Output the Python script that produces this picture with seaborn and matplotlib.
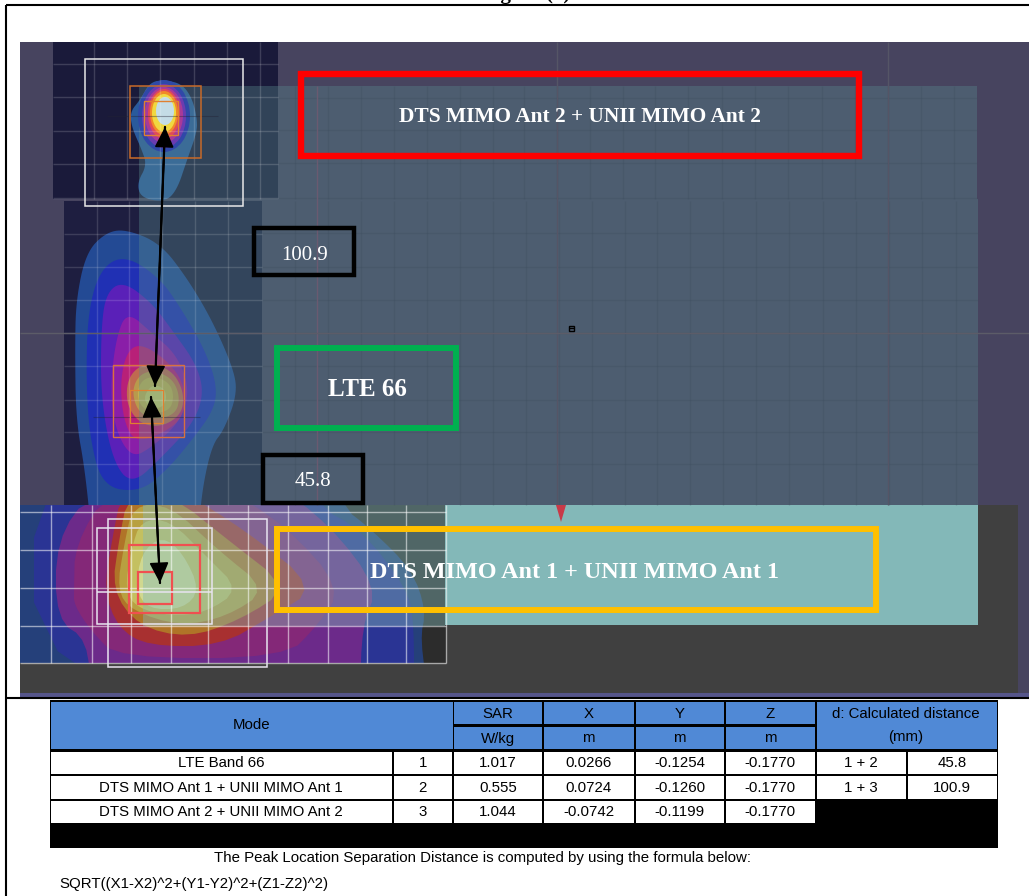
import numpy as np
import pandas as pd
import matplotlib
matplotlib.use("Agg")
import matplotlib.pyplot as plt
from matplotlib.patches import Rectangle, Polygon, Ellipse
import seaborn as sns

SANS = "Liberation Sans"
SERIF = "Liberation Serif"

# ---- table data
table_modes = ["LTE Band 66", "DTS MIMO Ant 1 + UNII MIMO Ant 1", "DTS MIMO Ant 2 + UNII MIMO Ant 2"]
table_ids = ["1", "2", "3"]
table_sar = ["1.017", "0.555", "1.044"]
table_x = ["0.0266", "0.0724", "-0.0742"]
table_y = ["-0.1254", "-0.1260", "-0.1199"]
table_z = ["-0.1770", "-0.1770", "-0.1770"]
pair_labels = ["1 + 2", "1 + 3"]
pair_dist = ["45.8", "100.9"]
col_edges = [51, 392.5, 453, 543, 634.5, 725, 815.5, 907, 997]
row_edges = [(752, 774), (776.5, 799), (801, 823)]

# ---- SAR peak positions in the picture
links = pd.DataFrame({
    "px": [155, 165, 151, 160],
    "py": [386, 127, 397, 583],
    "pair": ["1+3", "1+3", "1+2", "1+2"],
})

# ---- SAR contour layers (outer to inner)
top_outer = [(140,100),(130,112),(132,128),(141,148),(147,165),(137,183),(141,198),(165,202),(177,190),(187,160),(197,132),(197,118),(192,98),(182,84),(165,80),(150,82)]
top_rings = [
    (164,116,26,36,"#3048a8"),(164,116,22,32,"#6a3cb0"),(164,115,19,28,"#a83a98"),
    (164,114,16,25,"#e04a58"),(164,113,14,22,"#f08a28"),(164,113,12,19,"#f0d840"),
    (165,111,9,14,"#c4dce6"),
]
mid_layers = [
    ("#234a94",[(125,229),(160,243),(187,278),(212,320),(234,370),(237,395),(224,430),(212,445),(202,490),(198,540),(92,540),(85,470),(76,420),(75,350),(76,300),(86,253),(105,233)]),
    ("#2030b4",[(125,255),(160,278),(182,310),(205,350),(217,385),(214,410),(192,440),(167,470),(140,492),(103,487),(90,440),(86,380),(88,310),(101,268)]),
    ("#5a20b8",[(123,281),(152,303),(172,330),(197,365),(204,395),(192,425),(162,457),(132,485),(113,462),(101,400),(101,330),(106,293)]),
    ("#8a1ea8",[(127,311),(152,333),(177,355),(190,390),(180,422),(152,447),(132,458),(116,432),(110,390),(116,338)]),
    ("#b82078",[(140,343),(167,360),(185,385),(184,417),(162,434),(135,442),(124,422),(120,385),(126,353)]),
    ("#bf6a50",[(146,362),(172,370),(184,392),(182,414),(162,427),(140,424),(126,404),(128,376)]),
    ("#b89a4c",[(152,370),(172,378),(180,396),(176,414),(155,420),(138,412),(132,392),(138,376)]),
    ("#c0b050",[(154,376),(170,383),(174,397),(170,410),(154,414),(140,406),(137,392),(142,380)]),
    ("#c8c868",[(152,384),(164,388),(167,398),(162,408),(150,408),(143,398)]),
]
bottom_layers = [
    ("#25407a",[(-60,440),(335,440),(340,505),(372,530),(412,570),(426,610),(420,640),(430,700),(-60,700)]),
    ("#2a3494",[(34,440),(310,440),(315,505),(362,530),(408,590),(414,625),(414,700),(34,700)]),
    ("#6c2a8a",[(56,540),(92,490),(270,480),(330,525),(378,588),(362,625),(360,700),(90,700),(88,640),(56,620)]),
    ("#842878",[(74,590),(75,545),(108,490),(220,485),(285,525),(342,588),(318,625),(285,658),(118,658),(92,632),(74,605)]),
    ("#a83030",[(104,590),(112,540),(122,490),(180,490),(245,530),(318,588),(270,617),(220,646),(148,646),(118,628)]),
    ("#b07428",[(112,590),(119,540),(128,495),(172,495),(228,540),(290,588),(240,620),(188,638),(138,626)]),
    ("#b8a040",[(117,590),(124,545),(133,505),(170,505),(218,550),(268,590),(226,617),(180,626),(132,611)]),
    ("#c4c060",[(125,590),(131,550),(141,520),(170,520),(206,556),(240,590),(205,613),(170,616),(137,608)]),
    ("#d0d890",[(136,590),(141,553),(162,536),(183,553),(200,590),(183,609),(148,609)]),
]

# ---- grid line positions
top_grid_x = [94,127,160,194,227,260]
top_grid_y = [64,97,131,164,198]
mid_grid_x = [97,129,162,195,228]
mid_grid_y = [234,267,300,333,366,400,432,464]
teal_grid_x_top = [295,328,361,394,427,460,493,524,557,590,623,655,688,722,755,788,822,855,888,921,954]
teal_grid_y_top = [98,130,163,198]
teal_grid_x_mid = [295,328,361,394,427,460,493,526,559,592,625,657,690,723,756,789,823,856,889,922,956]
teal_grid_y_mid = [233,267,300,333,366,400,432,464]
bot_grid_x = [51,92,131,171,208,248,288,328,367,406,446]
bot_grid_y = [512,550,588,626,663]

sns.set_theme(style="white", rc={"axes.linewidth": 0})
fig, ax = plt.subplots(figsize=(10.29, 8.96), dpi=100)
fig.subplots_adjust(0, 0, 1, 1)
ax.set_xlim(0, 1029)
ax.set_ylim(896, 0)
ax.axis("off")

def rect(x0, y0, x1, y1, fc="none", ec="none", lw=0, alpha=None, z=1):
    ax.add_patch(Rectangle((x0, y0), x1 - x0, y1 - y0, fc=fc, ec=ec, lw=lw, alpha=alpha, zorder=z))

def smooth(pts, n=3):
    p = np.asarray(pts, float)
    for _ in range(n):
        q = np.roll(p, -1, axis=0)
        p = np.column_stack([0.75 * p + 0.25 * q, 0.25 * p + 0.75 * q]).reshape(-1, 2)
    return p

# picture background
rect(20, 42, 1029, 697, fc="#47445f", z=1)
rect(53, 42, 278, 199, fc="#1a1a3a", z=2)
rect(64, 201, 262, 505, fc="#1e1e40", z=2)

# mid blob
for col, pts in mid_layers:
    poly = ax.add_patch(Polygon(smooth(pts), fc=col, ec="none", zorder=3))
    poly.set_clip_path(Rectangle((20, 201), 500, 304, transform=ax.transData))
# top blob
ax.add_patch(Polygon(smooth(top_outer), fc="#2a5a9c", ec="none", zorder=3))

# translucent body overlay
ov = "#5a8c90"
rect(139, 86, 977, 199, fc=ov, alpha=0.36, z=4)
rect(139, 199, 978, 505, fc=ov, alpha=0.36, z=4)
for cx, cy, rx, ry, col in top_rings:
    ax.add_patch(Ellipse((cx, cy), 2 * rx, 2 * ry, fc=col, ec="none", zorder=4.5))

# faint grids
ax.vlines(top_grid_x, 42, 199, color="white", alpha=0.16, lw=1, zorder=5)
ax.hlines(top_grid_y, 53, 278, color="white", alpha=0.16, lw=1, zorder=5)
ax.vlines(mid_grid_x, 201, 505, color="white", alpha=0.14, lw=1, zorder=5)
ax.hlines(mid_grid_y, 64, 262, color="white", alpha=0.14, lw=1, zorder=5)
ax.vlines(teal_grid_x_top, 86, 199, color="#3c4c5c", alpha=0.28, lw=1, zorder=5)
ax.hlines(teal_grid_y_top, 278, 977, color="#3c4c5c", alpha=0.28, lw=1, zorder=5)
ax.vlines(teal_grid_x_mid, 201, 505, color="#3c4c5c", alpha=0.28, lw=1, zorder=5)
ax.hlines(teal_grid_y_mid, 262, 978, color="#3c4c5c", alpha=0.28, lw=1, zorder=5)
ax.vlines([557, 888], 42, 505, color="#555566", lw=1, zorder=5)
ax.vlines([317], 86, 505, color="#6a5a70", lw=1, zorder=5)
ax.hlines([333], 20, 1029, color="#5c5c68", lw=1, zorder=5)
ax.hlines([116], 107, 218, color="#222233", alpha=0.4, lw=0.8, zorder=5)
ax.hlines([417], 93, 200, color="#222233", alpha=0.4, lw=0.8, zorder=5)
ax.add_patch(Rectangle((569, 326), 5, 5, fc="none", ec="black", lw=1, zorder=5))
ax.hlines([328], 569, 574, color="black", lw=1, zorder=5)

# bottom region
rect(20, 505, 1018, 694, fc="#404040", z=2)
rect(1018, 505, 1029, 694, fc="#47445f", z=2)
rect(20, 505, 446, 663, fc="#2c2c2c", z=3)
for col, pts in bottom_layers:
    poly = ax.add_patch(Polygon(smooth(pts, 2), fc=col, ec="none", zorder=3))
    poly.set_clip_path(Rectangle((20, 505), 426, 158, transform=ax.transData))
rect(143, 505, 445, 626, fc="#83b8b8", alpha=0.42, z=4)
rect(445, 505, 978, 625, fc="#83b8b8", z=4)
rect(20, 693, 1029, 697, fc="#55558a", z=2)
ax.add_patch(Polygon([(556, 505), (566, 505), (561, 522)], fc="#c83a48", ec="none", zorder=5))

# white grid on the bottom region
ax.vlines(bot_grid_x, 505, 663, color="white", alpha=0.55, lw=1, zorder=6)
ax.hlines(bot_grid_y, 20, 446, color="white", alpha=0.55, lw=1, zorder=6)

# measurement squares
for x0, y0, x1, y1, c, lw in [
    (85, 59, 243, 206, "#e8e8e8", 1.1),
    (129.5, 86, 201, 158, "#c86a28", 1.1),
    (144, 101, 178, 135, "#e08030", 1.0),
    (113, 365, 184, 437, "#d87040", 1.0),
    (130, 390, 163, 423, "#e08030", 0.9),
    (97, 528, 212, 624, "#e8e4f0", 1.1),
    (108, 519.5, 267, 667, "#e8e4f0", 1.1),
    (129, 545, 200, 613, "#f05050", 1.6),
    (138, 572, 172, 604, "#f05050", 1.6),
]:
    rect(x0, y0, x1, y1, ec=c, lw=lw, z=7)
ax.hlines([592], 97, 212, color="#e8e4f0", lw=1.1, zorder=7)

# annotation frames
rect(301, 74, 859, 156, ec="#ff0000", lw=4.6, z=8)
rect(277, 348, 456, 428, ec="#00b050", lw=4.3, z=8)
rect(254, 228, 354, 275, ec="black", lw=3.2, z=8)
rect(263, 455, 363, 503, ec="black", lw=3.2, z=8)
rect(276.5, 529.5, 875.5, 610.5, ec="#ffc000", lw=4.3, z=8)

txt = dict(color="white", family=SERIF, ha="center", va="center", zorder=9)
ax.text(580, 117, "DTS MIMO Ant 2 + UNII MIMO Ant 2", fontsize=15.4, weight="bold", **txt)
ax.text(367, 390, "LTE 66", fontsize=18, weight="bold", **txt)
ax.text(305, 255, "100.9", fontsize=15, **txt)
ax.text(313, 482, "45.8", fontsize=15, **txt)
ax.text(575, 573, "DTS MIMO Ant 1 + UNII MIMO Ant 1", fontsize=17.4, weight="bold", **txt)

# arrows joining the peaks
sns.lineplot(data=links, x="px", y="py", units="pair", estimator=None, sort=False,
             color="black", lw=1.6, ax=ax, zorder=10, legend=False)
for pair, g in links.groupby("pair"):
    p = g[["px", "py"]].to_numpy()
    for a, b in [(0, 1), (1, 0)]:
        ax.annotate("", xy=p[a], xytext=p[b],
                    arrowprops=dict(arrowstyle="-|>,head_width=0.4,head_length=0.85",
                                    color="black", lw=1.2, shrinkA=0, shrinkB=0, mutation_scale=15),
                    zorder=10)

# page frame
ax.hlines([5], 6, 1029, color="black", lw=1.5, zorder=12)
ax.vlines([6], 5, 896, color="black", lw=1.5, zorder=12)
ax.hlines([698.5], 6, 1029, color="black", lw=1.5, zorder=12)
ax.text(526, -0.5, "Figure (x)", family=SERIF, weight="bold", fontsize=15, ha="center", va="baseline",
        color="black", zorder=11, clip_on=True)

# ---- table
BLUE = "#5089d6"
FS = 10.85
rect(50, 700, 998, 848, fc="black", z=2)
rect(51, 702, 453, 749, fc=BLUE, z=3)
e = col_edges
tt = dict(family=SANS, fontsize=FS, ha="center", va="center", color="black", zorder=5)
for i, (head, unit) in enumerate(zip(["SAR", "X", "Y", "Z"], ["W/kg", "m", "m", "m"])):
    x0, x1 = e[2 + i] + 1, e[3 + i] - 1
    rect(x0, 702, x1, 724, fc=BLUE, z=3)
    rect(x0, 727, x1, 749, fc=BLUE, z=3)
    ax.text((x0 + x1) / 2, 713.5, head, **tt)
    ax.text((x0 + x1) / 2, 738.5, unit, **tt)
rect(e[6] + 1, 702, e[8], 749, fc=BLUE, z=3)
ax.text(252, 725, "Mode", **tt)
ax.text(906, 714.5, "d: Calculated distance", **tt)
ax.text(906, 737, "(mm)", **tt)
columns = [table_modes, table_ids, table_sar, table_x, table_y, table_z]
for r, (y0, y1) in enumerate(row_edges):
    for c, col in enumerate(columns):
        x0, x1 = e[c] + (1 if c else 0), e[c + 1] - 1
        rect(x0, y0, x1, y1, fc="white", z=3)
        ax.text((x0 + x1) / 2, (y0 + y1) / 2, col[r], **tt)
for r, (lab, d) in enumerate(zip(pair_labels, pair_dist)):
    y0, y1 = row_edges[r]
    rect(e[6] + 1, y0, e[7] - 1, y1, fc="white", z=3)
    rect(e[7] + 1, y0, e[8], y1, fc="white", z=3)
    ax.text((e[6] + e[7]) / 2, (y0 + y1) / 2, lab, **tt)
    ax.text((e[7] + e[8]) / 2, (y0 + y1) / 2, d, **tt)

ax.text(482, 858, "The Peak Location Separation Distance is computed by using the formula below:", **tt)
ax.text(59, 884, "SQRT((X1-X2)^2+(Y1-Y2)^2+(Z1-Z2)^2)", family=SANS, fontsize=FS, ha="left", va="center", color="black")

fig.savefig("out.png", dpi=100)
